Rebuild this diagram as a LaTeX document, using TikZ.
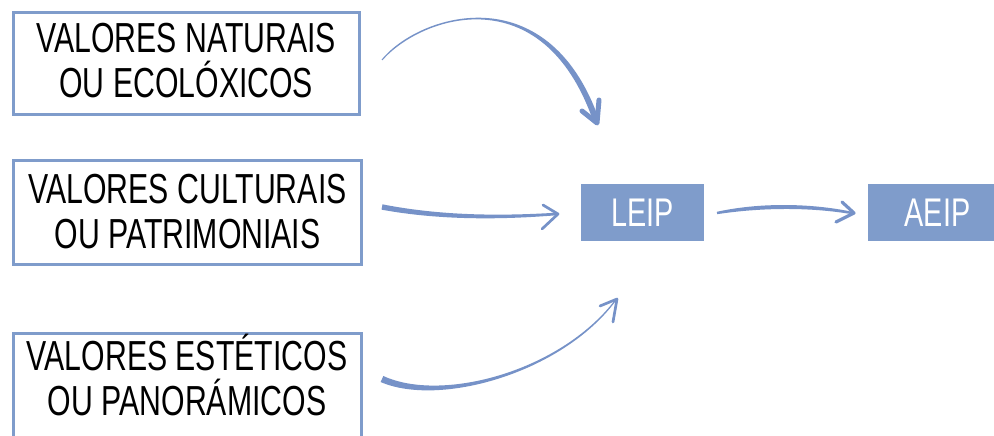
\documentclass[tikz,border=0pt]{standalone}
\usepackage{fontspec}
\newfontfamily\cond[FakeStretch=0.72]{Liberation Sans}
\usetikzlibrary{calc}
\definecolor{boxblue}{HTML}{7F9CCB}
\definecolor{arrowblue}{HTML}{7692C8}
\tikzset{
  valbox/.style={draw=boxblue, line width=3pt, minimum width=348pt, minimum height=104pt,
    inner sep=0pt, align=center, font=\cond\fontsize{42}{45}\selectfont, text=black},
  acrbox/.style={fill=boxblue, inner sep=0pt, minimum height=57pt,
    font=\cond\fontsize{40}{40}\selectfont, text=white},
  barb/.style={draw=arrowblue, line cap=round, line join=round},
}
% tapered stroke along a cubic Bezier: #1..#4 control points, #5..#8 half widths (pt)
\newcommand\taperfill[8]{%
  \fill[arrowblue] ($(#1)!#5pt!90:(#2)$) .. controls ($(#2)!#6pt!-90:(#1)$) and ($(#3)!#7pt!90:(#4)$) .. ($(#4)!#8pt!-90:(#3)$)
    -- ($(#4)!#8pt!90:(#3)$) .. controls ($(#3)!#7pt!-90:(#4)$) and ($(#2)!#6pt!90:(#1)$) .. ($(#1)!#5pt!-90:(#2)$) -- cycle;}
\begin{document}
\begin{tikzpicture}[x=1pt,y=-1pt]
\useasboundingbox (0,0) rectangle (994,436);
\fill[white] (0,0) rectangle (994,436);

% boxes
\node[valbox, minimum width=346pt, minimum height=102pt, text depth=7pt] (nat) at (186.3,63.9) {VALORES NATURAIS\\OU ECOLÓXICOS};
\node[valbox] (cul) at (187.5,212) {VALORES CULTURAIS\\OU PATRIMONIAIS};
\node[valbox, text depth=20pt] (est) at (187,385) {VALORES ESTÉTICOS\\OU PANORÁMICOS};
\node[acrbox, minimum width=123pt] (leip) at (642.5,212.5) {LEIP};
\node[acrbox, minimum width=139pt] (aeip) at (937.5,212.5) {AEIP};

% arrow 1 (naturais -> LEIP)
\coordinate (a1p0) at (382,60);
\coordinate (a1p1) at (420,15);
\coordinate (a1p2) at (545,-25);
\coordinate (a1p3) at (596,120);
\coordinate (a1t) at (597,123);
\coordinate (a1b1) at (582,111);
\coordinate (a1b2) at (599,100);
\taperfill{a1p0}{a1p1}{a1p2}{a1p3}{0.5}{1.5}{2.6}{3.0}
\draw[barb, line width=5pt] (a1b1) -- (a1t) -- (a1b2);

% arrow 2 (culturais -> LEIP)
\coordinate (a2p0) at (382,207);
\coordinate (a2p1) at (440,218);
\coordinate (a2p2) at (500,218);
\coordinate (a2p3) at (556,214);
\coordinate (a2t) at (558,214);
\coordinate (a2b1) at (543,205);
\coordinate (a2b2) at (542,229);
\taperfill{a2p0}{a2p1}{a2p2}{a2p3}{2.7}{2.3}{1.8}{1.3}
\draw[barb, line width=2.7pt] (a2b1) -- (a2t) -- (a2b2);

% arrow 3 (LEIP -> AEIP)
\coordinate (a3p0) at (717,213);
\coordinate (a3p1) at (760,205);
\coordinate (a3p2) at (810,205);
\coordinate (a3p3) at (852,213);
\coordinate (a3t) at (854,213);
\coordinate (a3b1) at (842,202);
\coordinate (a3b2) at (836,222);
\taperfill{a3p0}{a3p1}{a3p2}{a3p3}{1.2}{2.6}{2.0}{1.2}
\draw[barb, line width=3.2pt] (a3b1) -- (a3t) -- (a3b2);

% arrow 4 (esteticos -> LEIP)
\coordinate (a4p0) at (382,379);
\coordinate (a4p1) at (440,405);
\coordinate (a4p2) at (560,373);
\coordinate (a4p3) at (615,301);
\coordinate (a4t) at (617,299);
\coordinate (a4b1) at (600,306);
\coordinate (a4b2) at (613,322);
\taperfill{a4p0}{a4p1}{a4p2}{a4p3}{3.3}{2.5}{1.2}{0.6}
\draw[barb, line width=2.7pt] (a4b1) -- (a4t) -- (a4b2);
\end{tikzpicture}
\end{document}
